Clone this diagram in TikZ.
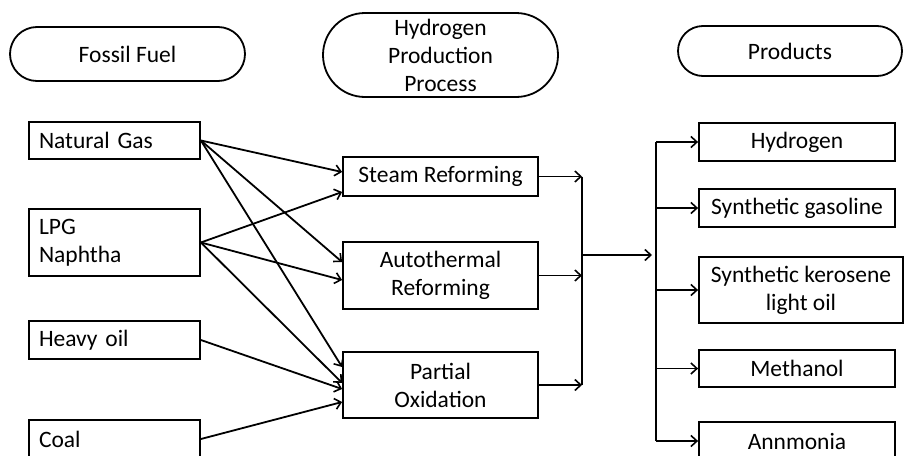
\documentclass[tikz,border=0pt]{standalone}
\usepackage{fontspec}
\setmainfont{Carlito}
\usetikzlibrary{arrows.meta,shapes.misc}

\tikzset{
    box/.style={draw, line width=1.8pt, rectangle, inner sep=0pt, align=center},
    head/.style={draw, line width=1.8pt, rounded rectangle, inner sep=0pt, align=center},
    arr/.style={line width=1.8pt, -{Straight Barb[length=6pt,width=11pt,line width=1.6pt]}},
    link/.style={line width=1.8pt}
}

\begin{document}
\begin{tikzpicture}[x=1pt, y=-1pt, font=\fontsize{23.5}{28}\selectfont]
        \useasboundingbox (0, 0) rectangle (904, 455);
        \clip (0, 0) rectangle (904, 455);

        % headings
        \node[head, minimum width=235pt, minimum height=54pt] (fossil) at (127.5, 54) {Fossil Fuel};
        \node[head, minimum width=235pt, minimum height=84pt] (process) at (440.5, 55) {Hydrogen\\Production\\Process};
        \node[head, minimum width=224pt, minimum height=50pt] (products) at (790, 51) {Products};

        % fuels
        \node[box, minimum width=171pt, minimum height=37pt, text width=151pt, align=left] (gas) at (114.5, 140.5) {Natural Gas};
        \node[box, minimum width=171pt, minimum height=67pt, text width=151pt, align=left] (lpg) at (114.5, 242.5) {LPG\\Naphtha};
        \node[box, minimum width=171pt, minimum height=38pt, text width=151pt, align=left] (heavy) at (114.5, 340) {Heavy oil};
        \node[box, minimum width=171pt, minimum height=38pt, text width=151pt, align=left] (coal) at (114.5, 439) {Coal};

        % processes
        \node[box, minimum width=195pt, minimum height=39pt] (steam) at (440.5, 176.5) {Steam Reforming};
        \node[box, minimum width=195pt, minimum height=67pt] (auto) at (440.5, 275.5) {Autothermal\\Reforming};
        \node[box, minimum width=195pt, minimum height=66pt] (pox) at (440.5, 385) {Partial\\Oxidation};

        % products
        \node[box, minimum width=196pt, minimum height=38pt] (hydrogen) at (797, 142) {Hydrogen};
        \node[box, minimum width=196pt, minimum height=38pt] (gasoline) at (797, 208) {Synthetic gasoline};
        \node[box, minimum width=204pt, minimum height=66pt] (kerosene) at (801, 290) {Synthetic kerosene\\light oil};
        \node[box, minimum width=196pt, minimum height=37pt] (methanol) at (797, 368.5) {Methanol};
        \node[box, minimum width=196pt, minimum height=38pt] (ammonia) at (797, 441) {Annmonia};

        % fuel -> process
        \draw[arr] (gas.east) -- ([yshift=4.5pt]steam.west);
        \draw[arr] (gas.east) -- ([yshift=13.5pt]auto.west);
        \draw[arr] (gas.east) -- ([yshift=18pt]pox.west);
        \draw[arr] (lpg.east) -- ([yshift=-15.5pt]steam.west);
        \draw[arr] (lpg.east) -- ([yshift=-4.5pt]auto.west);
        \draw[arr] (lpg.east) -- ([yshift=2pt]pox.west);
        \draw[arr] (heavy.east) -- ([yshift=-4pt]pox.west);
        \draw[arr] (coal.east) -- ([yshift=-17pt]pox.west);

        % process -> products
        \coordinate (collect) at (582, 255);
        \coordinate (split) at (656, 255);
        \draw[arr] (steam.east) -- (steam.east -| collect);
        \draw[arr] (auto.east) -- (auto.east -| collect);
        \draw[arr] (pox.east) -- (pox.east -| collect);
        \draw[link] (steam.east -| collect) -- (pox.east -| collect);
        \draw[arr] (collect) -- ([xshift=-4pt]split);
        \draw[link] (hydrogen.west -| split) -- (ammonia.west -| split);
        \foreach \p in {hydrogen, gasoline, kerosene, methanol, ammonia}
            \draw[arr] (\p.west -| split) -- (\p.west);
\end{tikzpicture}
\end{document}
